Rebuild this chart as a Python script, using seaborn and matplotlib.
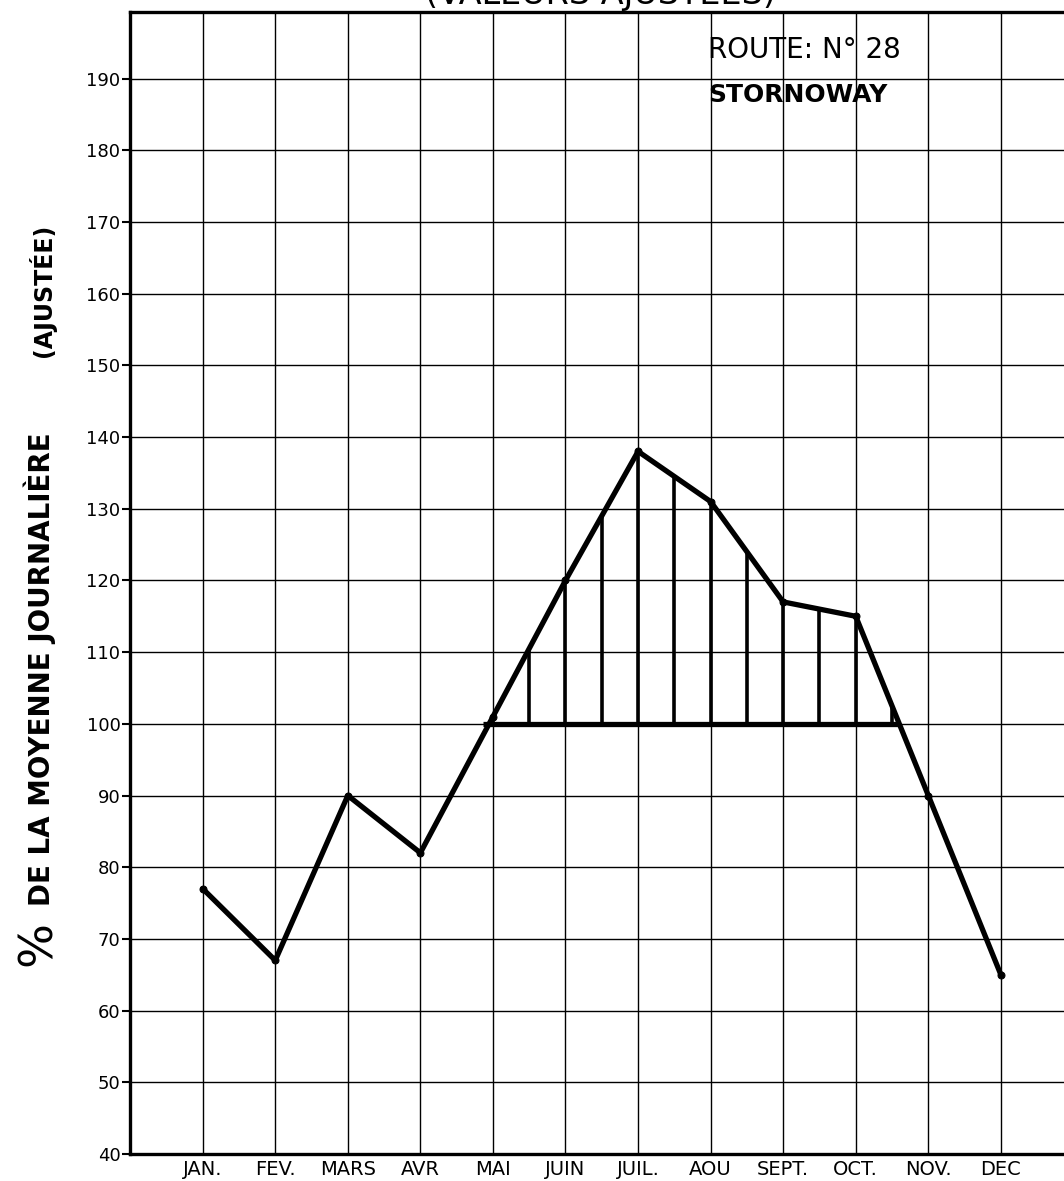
import numpy as np
import pandas as pd
import matplotlib
matplotlib.use("Agg")
import matplotlib.pyplot as plt
import seaborn as sns

# % de la moyenne journaliere (ajustee), route n° 28 - Stornoway
months = ["JAN.", "FEV.", "MARS", "AVR", "MAI", "JUIN", "JUIL.", "AOU",
          "SEPT.", "OCT.", "NOV.", "DEC"]
month_no = [1, 2, 3, 4, 5, 6, 7, 8, 9, 10, 11, 12]
pct = [77, 67, 90, 82, 101, 120, 138, 131, 117, 115, 90, 65]
y_ticks = [40, 50, 60, 70, 80, 90, 100, 110, 120, 130, 140, 150, 160, 170, 180, 190]
mean_level = 100

df = pd.DataFrame({"mois": month_no, "pct": pct})

sns.set_theme(style="white")
plt.rcParams["font.family"] = ["DejaVu Sans"]

fig = plt.figure(figsize=(10.64, 11.81), dpi=100)
ax = fig.add_axes([0.1223, 0.0229, 0.8777, 0.967])

sns.lineplot(data=df, x="mois", y="pct", color="black", lw=3.8,
             marker="o", markersize=5, markeredgecolor="black", ax=ax, zorder=5)

# part above the daily mean: baseline + vertical hatching every half month
x_left = np.interp(mean_level, [pct[3], pct[4]], [4, 5])
x_right = np.interp(mean_level, [pct[10], pct[9]], [11, 10])
ax.hlines(mean_level, x_left - 0.08, x_right, color="black", lw=3.8, zorder=4)
hx = np.arange(5, 11, 0.5)
hy = np.interp(hx, month_no, pct)
ax.vlines(hx, mean_level, hy, color="black", lw=2.6, zorder=4)

ax.set_xlim(0, 12.87)
ax.set_ylim(40, 199.3)
ax.set_xticks(month_no, months)
ax.set_yticks(y_ticks)
ax.set_xlabel("")
ax.set_ylabel("")
ax.grid(True, color="black", lw=1.0)
ax.tick_params(axis="x", length=0, pad=4, labelsize=14, colors="black")
ax.tick_params(axis="y", length=6, width=1.5, direction="out", pad=1,
               labelsize=13, colors="black", left=True)
for side in ["left", "top", "bottom"]:
    ax.spines[side].set_linewidth(2.4)
    ax.spines[side].set_color("black")
ax.spines["right"].set_visible(False)

ax.text(7.97, 192.9, "ROUTE: N° 28", fontsize=20, color="black", va="baseline")
ax.text(7.97, 186.7, "STORNOWAY", fontsize=18, fontweight="bold",
        color="black", va="baseline")

# title, cut by the top edge as in the scan
fig.text(0.564, 1 - 4 / 1181, "(VALEURS AJUSTÉES)", fontsize=24,
         ha="center", va="baseline", color="black")

# y label in three pieces
fig.text(38 / 1064, 1 - 943 / 1181, "%", fontsize=34, rotation=90,
         ha="center", va="center", color="black")
fig.text(40 / 1064, 1 - 669 / 1181, "DE LA MOYENNE JOURNALIÈRE", fontsize=20,
         fontweight="bold", rotation=90, ha="center", va="center", color="black")
fig.text(42 / 1064, 1 - 290 / 1181, "(AJUSTÉE)", fontsize=17,
         fontweight="bold", rotation=90, ha="center", va="center", color="black")

fig.savefig("out.png", dpi=100)
